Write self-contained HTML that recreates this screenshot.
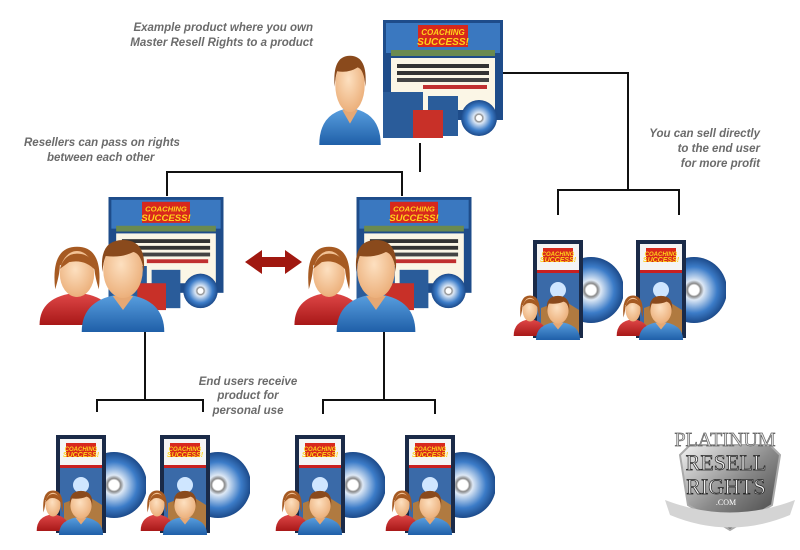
<!DOCTYPE html>
<html><head><meta charset="utf-8"><style>
html,body{margin:0;padding:0;background:#fff;}
svg{display:block}
text{font-family:"Liberation Sans",sans-serif;font-weight:bold;font-style:italic;font-size:11.5px;fill:#6b6b6b}
</style></head><body>
<svg width="800" height="550" viewBox="0 0 800 550" xmlns="http://www.w3.org/2000/svg">
<defs>
<radialGradient id="skin" cx="0.45" cy="0.4" r="0.7"><stop offset="0" stop-color="#fde0c0"/><stop offset="1" stop-color="#e9a870"/></radialGradient>
<linearGradient id="blue" x1="0" y1="0" x2="0" y2="1"><stop offset="0" stop-color="#5aa0e0"/><stop offset="1" stop-color="#1f5fa8"/></linearGradient>
<linearGradient id="red" x1="0" y1="0" x2="0" y2="1"><stop offset="0" stop-color="#e04848"/><stop offset="1" stop-color="#a81818"/></linearGradient>
<linearGradient id="silver" x1="0" y1="0" x2="1" y2="1"><stop offset="0" stop-color="#f4f4f4"/><stop offset="0.5" stop-color="#8a8a8a"/><stop offset="1" stop-color="#3a3a3a"/></linearGradient>
<radialGradient id="disc" cx="0.5" cy="0.5" r="0.5"><stop offset="0.15" stop-color="#fff"/><stop offset="0.2" stop-color="#888"/><stop offset="0.3" stop-color="#dde8f5"/><stop offset="0.7" stop-color="#3c7cc8"/><stop offset="1" stop-color="#1c4a8a"/></radialGradient>
<symbol id="man" viewBox="0 0 100 100" preserveAspectRatio="none">
<path d="M2,100 Q2,66 50,62 Q98,66 98,100 Z" fill="url(#blue)"/>
<path d="M38,64 L50,78 L62,64 Z" fill="#e6a874"/>
<ellipse cx="50" cy="38" rx="23" ry="28" fill="url(#skin)"/>
<path d="M26,40 Q22,8 50,8 Q78,8 74,40 Q72,22 62,20 Q48,26 30,24 Q27,30 26,40 Z" fill="#8a4a1c"/>
</symbol>
<symbol id="woman" viewBox="0 0 100 100" preserveAspectRatio="none">
<path d="M2,100 Q2,66 50,62 Q98,66 98,100 Z" fill="url(#red)"/>
<path d="M22,58 Q16,8 50,8 Q84,8 78,58 Q72,40 72,30 Q50,20 28,30 Q28,40 22,58 Z" fill="#a65a22"/>
<ellipse cx="50" cy="40" rx="22" ry="27" fill="url(#skin)"/>
<path d="M28,34 Q34,16 50,16 Q70,16 74,36 Q60,22 40,26 Z" fill="#a65a22"/>
</symbol>
<symbol id="case" viewBox="0 0 50 100">
<rect x="0" y="2" width="50" height="98" fill="#1a2a48"/>
<rect x="4" y="6" width="42" height="90" fill="#3a6aa8"/>
<rect x="4" y="6" width="42" height="26" fill="#f4f4f4"/>
<rect x="10" y="10" width="30" height="14" fill="#d8281c"/>
<text x="25" y="18" style="font-size:6px;fill:#ffd21a" text-anchor="middle">COACHING</text>
<text x="25" y="24" style="font-size:7px;fill:#ffd21a" text-anchor="middle">SUCCESS!</text>
<rect x="4" y="32" width="42" height="3" fill="#c82020"/>
<circle cx="25" cy="52" r="8" fill="#cfe6ff"/>
<path d="M8,70 L30,62 L46,72 L46,96 L8,96 Z" fill="#b07a40"/>
</symbol>
<symbol id="small" viewBox="0 0 110 110">
<circle cx="78" cy="60" r="33" fill="url(#disc)"/>
<use href="#case" x="20" y="8" width="50" height="100"/>
<use href="#woman" x="0" y="62" width="34" height="44"/>
<use href="#man" x="22" y="62" width="46" height="48"/>
</symbol>
<symbol id="prod" viewBox="0 0 120 120">
<rect x="0" y="0" width="120" height="100" fill="#1e4c8a"/>
<rect x="3" y="3" width="114" height="30" fill="#3a78c0"/>
<rect x="35" y="5" width="50" height="22" fill="#d8281c"/>
<text x="60" y="15" style="font-size:8px;fill:#ffd21a" text-anchor="middle">COACHING</text>
<text x="60" y="25" style="font-size:10px;fill:#ffd21a" text-anchor="middle">SUCCESS!</text>
<rect x="8" y="30" width="104" height="6" fill="#6a8a50"/>
<rect x="8" y="38" width="104" height="52" fill="#fbf6e6"/>
<rect x="14" y="44" width="92" height="4" fill="#333"/>
<rect x="14" y="51" width="92" height="4" fill="#333"/>
<rect x="14" y="58" width="92" height="4" fill="#444"/>
<rect x="40" y="65" width="64" height="4" fill="#c03030"/>
<rect x="0" y="72" width="40" height="46" fill="#2a5c9a"/>
<rect x="45" y="76" width="30" height="40" fill="#2a5c9a"/>
<circle cx="96" cy="98" r="18" fill="url(#disc)"/>
<rect x="30" y="90" width="30" height="28" fill="#c83028"/>
</symbol>
</defs>

<g stroke="#111" stroke-width="2" fill="none">
<path d="M485,73 H628 V190 M558,215 V190 H679 V215"/>
<path d="M420,143 V172 M167,196 V172 H402 V196"/>
<path d="M145,325 V400 M97,412 V400 H203 V412"/>
<path d="M384,330 V400 M323,414 V400 H435 V414"/>
</g>

<text x="313" y="31" text-anchor="end">Example product where you own</text>
<text x="313" y="46" text-anchor="end">Master Resell Rights to a product</text>
<text x="24" y="146">Resellers can pass on rights</text>
<text x="47" y="161">between each other</text>
<text x="760" y="137" text-anchor="end">You can sell directly</text>
<text x="760" y="152" text-anchor="end">to the end user</text>
<text x="760" y="167" text-anchor="end">for more profit</text>
<text x="248" y="385" text-anchor="middle">End users receive</text>
<text x="248" y="399" text-anchor="middle">product for</text>
<text x="248" y="414" text-anchor="middle">personal use</text>

<use href="#prod" x="383" y="20" width="120" height="120"/>
<use href="#man" x="318" y="48" width="64" height="97"/>

<use href="#prod" x="107" y="197" width="118" height="115"/>
<use href="#woman" x="38" y="240" width="78" height="85"/>
<use href="#man" x="80" y="232" width="86" height="100"/>

<use href="#prod" x="355" y="197" width="118" height="115"/>
<use href="#woman" x="293" y="240" width="72" height="85"/>
<use href="#man" x="335" y="232" width="82" height="100"/>

<path d="M245,262 L262,250 V257 H285 V250 L302,262 L285,274 V267 H262 V274 Z" fill="#a01810"/>

<use href="#small" x="513" y="230" width="110" height="110"/>
<use href="#small" x="616" y="230" width="110" height="110"/>
<use href="#small" x="36" y="425" width="110" height="110"/>
<use href="#small" x="140" y="425" width="110" height="110"/>
<use href="#small" x="275" y="425" width="110" height="110"/>
<use href="#small" x="385" y="425" width="110" height="110"/>

<g>
<path d="M680,455 L690,445 H770 L780,455 L772,505 L730,530 L688,505 Z" fill="url(#silver)" stroke="#aaa" stroke-width="2"/>
<path d="M665,500 Q730,525 795,500 L790,515 Q730,540 670,515 Z" fill="#d4d4d4"/>
<text x="725" y="446" text-anchor="middle" style="font-family:'Liberation Serif',serif;font-style:normal;font-weight:normal;font-size:20px;fill:#e4e4e4;stroke:#666;stroke-width:0.7">PLATINUM</text>
<text x="726" y="470" text-anchor="middle" style="font-family:'Liberation Serif',serif;font-style:normal;font-weight:normal;font-size:22px;fill:#f0f0f0;stroke:#222;stroke-width:0.7">RESELL</text>
<text x="726" y="494" text-anchor="middle" style="font-family:'Liberation Serif',serif;font-style:normal;font-weight:normal;font-size:22px;fill:#f0f0f0;stroke:#222;stroke-width:0.7">RIGHTS</text>
<text x="726" y="505" text-anchor="middle" style="font-family:'Liberation Serif',serif;font-style:normal;font-weight:normal;font-size:8px;fill:#fff">.COM</text>
</g>
</svg>
</body></html>
